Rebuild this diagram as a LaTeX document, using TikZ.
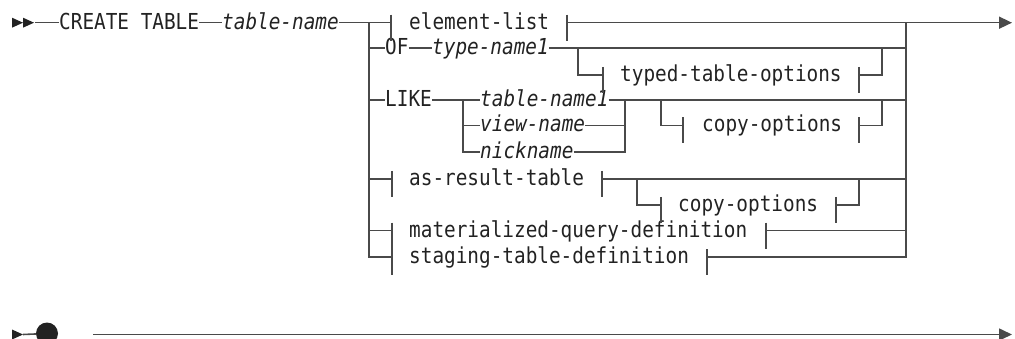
\documentclass[tikz,border=0pt]{standalone}
\usepackage{fontspec}
\usetikzlibrary{calc,arrows.meta}
\newfontfamily\rrfont[FakeStretch=0.88]{DejaVu Sans Mono}
\definecolor{lc}{HTML}{4A4A4A}
\definecolor{tc}{HTML}{222222}
\newcommand\tk[1]{\draw[ln] ($(#1)+(0,-8)$) -- ($(#1)+(0,18)$);}
\tikzset{
  ln/.style={draw=lc, line width=1.6pt},
  kw/.style={anchor=west, inner sep=0pt, text height=15pt, text depth=2pt,
    font=\rrfont\fontsize{22pt}{24pt}\selectfont, text=tc},
  var/.style={kw, font=\rrfont\itshape\fontsize{22pt}{24pt}\selectfont},
  endarrow/.style={-{Triangle[length=13pt,width=12pt]}},
}
\begin{document}
\begin{tikzpicture}[x=1pt,y=-1pt]
\useasboundingbox (0,0) rectangle (1015,339);
% ---------- row 1
\coordinate (s0) at (35,22.7);
\node[kw] (create) at (59,22.7) {CREATE TABLE};
\node[var] (tname) at (222,22.7) {table-name};
\coordinate (Ltop) at (369,22.7);
\coordinate (t1l) at (391,22.7);
\node[kw] (elist) at (409,22.7) {element-list};
\coordinate (t1r) at (567,22.7);
\coordinate (Rtop) at (906,22.7);
\coordinate (endA) at (1012,22.7);
% ---------- row 2/3
\coordinate (L2) at (369,48.3);
\node[kw] (of) at (385,48.3) {OF};
\node[var] (type) at (432,48.3) {type-name1};
\coordinate (b2) at (578,48.3);
\coordinate (j2) at (882,48.3);
\coordinate (R2) at (906,48.3);
\coordinate (b3) at (578,75);
\coordinate (t3l) at (603,75);
\node[kw] (typed) at (620,75) {typed-table-options};
\coordinate (t3r) at (859,75);
\coordinate (j3) at (882,75);
% ---------- row 4/5/6
\coordinate (L4) at (369,100);
\node[kw] (like) at (385,100) {LIKE};
\coordinate (c4l) at (463,100);
\node[var] (tn1) at (480,100) {table-name1};
\coordinate (c4r) at (625,100);
\coordinate (b4) at (661,100);
\coordinate (j4) at (882,100);
\coordinate (R4) at (906,100);
\coordinate (c5l) at (463,125.5);
\node[var] (view) at (480,125.5) {view-name};
\coordinate (c5r) at (625,125.5);
\coordinate (b5) at (661,125.5);
\coordinate (t5l) at (683,125.5);
\node[kw] (copy1) at (702,125.5) {copy-options};
\coordinate (t5r) at (859,125.5);
\coordinate (j5) at (882,125.5);
\coordinate (c6l) at (463,152);
\node[var] (nick) at (480,152) {nickname};
\coordinate (c6r) at (625,152);
% ---------- row 7/8
\coordinate (L7) at (369,179);
\coordinate (t7l) at (392,179);
\node[kw] (asr) at (409,179) {as-result-table};
\coordinate (t7r) at (602,179);
\coordinate (b7) at (637,179);
\coordinate (j7) at (859,179);
\coordinate (R7) at (906,179);
\coordinate (b8) at (637,205);
\coordinate (t8l) at (661,205);
\node[kw] (copy2) at (678,205) {copy-options};
\coordinate (t8r) at (836,205);
\coordinate (j8) at (859,205);
% ---------- row 9/10
\coordinate (L9) at (369,230.7);
\coordinate (t9l) at (392,230.7);
\node[kw] (mat) at (409,230.7) {materialized-query-definition};
\coordinate (t9r) at (766,230.7);
\coordinate (R9) at (906,230.7);
\coordinate (L10) at (369,257.3);
\coordinate (t10l) at (392,257.3);
\node[kw] (stag) at (409,257.3) {staging-table-definition};
\coordinate (t10r) at (707,257.3);
\coordinate (R10) at (906,257.3);
% ---------- start arrows
\fill[tc] (12,17.7) -- (23,22.7) -- (12,27.7) -- cycle;
\fill[tc] (23,17.7) -- (34,22.7) -- (23,27.7) -- cycle;
% ---------- lines row 1
\draw[ln] (s0) -- (create.west);
\draw[ln] (create.east) -- (tname.west);
\draw[ln] (tname.east) -- (t1l);
\draw[ln,endarrow] (t1r) -- (endA);
\tk{t1l} \tk{t1r}
% verticals
\draw[ln] (Ltop) -- (L10) -- (t10l);
\draw[ln] (Rtop) -- (R10) -- (t10r);
% row 2/3
\draw[ln] (L2) -- (of.west);
\draw[ln] (of.east) -- (type.west);
\draw[ln] (type.east) -- (R2);
\draw[ln] (b2) -- (b3) -- (t3l);
\draw[ln] (t3r) -- (j3) -- (j2);
\tk{t3l} \tk{t3r}
% row 4/5/6
\draw[ln] (L4) -- (like.west);
\draw[ln] (like.east) -- (tn1.west);
\draw[ln] (tn1.east) -- (R4);
\draw[ln] (c4l) -- (c6l) -- (nick.west);
\draw[ln] (c5l) -- (view.west);
\draw[ln] (nick.east) -- (c6r) -- (c4r);
\draw[ln] (view.east) -- (c5r);
\draw[ln] (b4) -- (b5) -- (t5l);
\draw[ln] (t5r) -- (j5) -- (j4);
\tk{t5l} \tk{t5r}
% row 7/8
\draw[ln] (L7) -- (t7l);
\draw[ln] (t7r) -- (R7);
\draw[ln] (b7) -- (b8) -- (t8l);
\draw[ln] (t8r) -- (j8) -- (j7);
\tk{t7l} \tk{t7r} \tk{t8l} \tk{t8r}
% row 9/10
\draw[ln] (L9) -- (t9l);
\draw[ln] (t9r) -- (R9);
\tk{t9l} \tk{t9r} \tk{t10l} \tk{t10r}
% ---------- bottom row
\fill[tc] (12,329.5) -- (23,334.5) -- (12,339.5) -- cycle;
\coordinate (a0) at (23,334.5);
\node[circle, fill=tc, inner sep=0pt, minimum size=22pt] (dot) at (47,333.5) {};
\draw[ln] (a0) -- (dot);
\coordinate (bl) at (93,334.5);
\coordinate (br) at (1012,334.5);
\draw[ln,endarrow] (bl) -- (br);
\end{tikzpicture}
\end{document}
